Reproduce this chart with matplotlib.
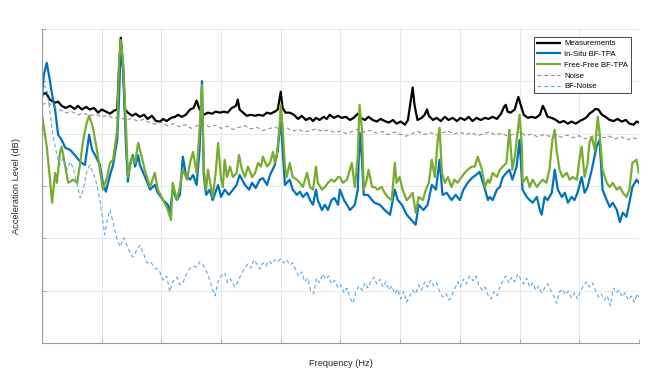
import numpy as np
import matplotlib
matplotlib.use("Agg")
from matplotlib import pyplot as plt

# each series: rows of [frequency (Hz), level (dB)]
meas = np.array([
    [0, 47.4], [7, 47.8], [13, 46.5], [22, 45.9], [27, 46.1], [33, 45.3], [40, 44.9], [47, 45.3],
    [55, 44.7], [60, 45.3], [67, 44.6], [74, 45.1], [80, 44.6], [87, 44.9], [94, 44.0], [100, 44.6],
    [107, 44.2], [114, 43.8], [121, 44.4], [126, 44.6], [129, 52.2], [132, 58.3], [136, 52.2],
    [139, 44.6], [144, 44.0], [151, 43.4], [157, 43.8], [164, 43.2], [171, 43.6], [177, 42.8],
    [184, 43.4], [191, 42.4], [198, 42.3], [203, 42.8], [209, 42.4], [216, 43.0], [223, 43.2],
    [228, 43.6], [234, 43.2], [241, 43.6], [248, 44.6], [254, 44.9], [259, 46.3], [264, 44.6],
    [271, 43.6], [278, 44.0], [285, 43.8], [291, 44.2], [298, 44.0], [305, 44.2], [311, 44.0],
    [318, 44.9], [325, 45.3], [328, 46.5], [331, 44.6], [337, 44.0], [343, 43.4], [350, 43.6],
    [357, 43.4], [363, 43.6], [370, 43.4], [377, 44.0], [383, 43.8], [390, 44.2], [395, 44.6],
    [400, 48.0], [403, 44.9], [408, 44.0], [415, 44.0], [422, 43.6], [429, 42.8], [435, 43.4],
    [442, 42.6], [449, 43.0], [454, 42.4], [459, 43.0], [465, 42.6], [472, 43.2], [477, 42.8],
    [482, 43.6], [489, 43.0], [496, 43.4], [502, 43.0], [509, 43.2], [516, 42.6], [522, 43.0],
    [529, 43.8], [534, 43.0], [541, 42.6], [547, 43.2], [554, 42.6], [561, 42.3], [567, 42.8],
    [574, 42.4], [581, 42.1], [588, 42.6], [594, 41.9], [601, 42.3], [608, 41.7], [613, 42.6],
    [618, 46.5], [621, 48.8], [624, 45.5], [629, 42.6], [636, 43.0], [641, 43.6], [645, 44.6],
    [648, 43.4], [655, 42.6], [661, 43.0], [668, 42.4], [675, 43.2], [681, 42.6], [688, 43.0],
    [695, 42.4], [701, 43.0], [708, 42.6], [715, 43.2], [721, 42.4], [728, 43.0], [735, 42.6],
    [742, 43.0], [748, 42.8], [755, 43.2], [762, 42.8], [769, 43.8], [774, 45.1], [777, 45.5],
    [780, 44.2], [785, 44.0], [792, 44.6], [795, 45.9], [798, 47.0], [802, 45.5], [807, 43.6],
    [814, 43.0], [820, 43.2], [827, 43.0], [834, 43.6], [839, 45.3], [842, 44.6], [847, 43.2],
    [854, 43.0], [861, 42.6], [867, 42.1], [874, 42.4], [881, 41.9], [887, 42.3], [894, 41.9],
    [901, 42.4], [908, 42.8], [913, 43.2], [917, 43.8], [922, 44.2], [927, 44.7], [932, 44.6],
    [938, 43.6], [944, 43.2], [951, 42.6], [958, 42.4], [964, 42.8], [971, 42.3], [978, 42.6],
    [984, 41.9], [991, 41.7], [996, 42.3], [1000, 42.1],
])

insitu = np.array([
    [0, 47.0], [3, 51.2], [8, 53.5], [13, 50.3], [17, 47.4], [22, 44.6], [27, 39.8], [33, 38.8],
    [39, 37.3], [47, 36.9], [55, 35.9], [64, 34.6], [72, 34.0], [79, 39.8], [84, 36.9], [89, 35.9],
    [97, 34.0], [102, 30.6], [107, 28.9], [114, 32.1], [119, 34.0], [126, 38.8], [129, 46.5],
    [132, 57.0], [136, 52.2], [141, 36.9], [144, 30.8], [147, 34.0], [152, 35.9], [156, 33.7],
    [161, 35.9], [164, 34.0], [169, 32.7], [176, 30.8], [181, 29.3], [189, 30.2], [194, 28.7],
    [203, 27.3], [211, 26.4], [214, 24.5], [219, 29.3], [226, 27.3], [231, 28.3], [236, 35.6],
    [241, 32.1], [248, 31.2], [253, 32.1], [259, 30.2], [264, 36.9], [268, 50.0], [271, 32.1],
    [275, 28.3], [281, 29.3], [286, 27.3], [295, 30.2], [300, 27.9], [306, 29.3], [313, 28.3],
    [320, 29.3], [326, 30.2], [331, 32.1], [340, 30.2], [347, 29.3], [352, 30.6], [358, 29.6],
    [365, 31.2], [370, 31.5], [377, 30.2], [382, 32.1], [390, 34.0], [395, 36.9], [400, 43.0],
    [403, 36.9], [407, 30.2], [415, 31.2], [420, 29.3], [427, 28.3], [432, 28.9], [437, 27.9],
    [444, 28.7], [449, 27.3], [454, 26.4], [459, 29.3], [462, 27.3], [469, 25.4], [474, 26.4],
    [479, 25.4], [485, 27.3], [490, 27.7], [496, 26.4], [499, 29.3], [506, 27.3], [516, 25.4],
    [524, 26.4], [529, 29.3], [532, 40.2], [536, 35.0], [539, 28.3], [546, 28.3], [553, 27.3],
    [557, 26.8], [566, 26.4], [574, 25.4], [583, 24.5], [591, 29.3], [596, 27.3], [603, 26.4],
    [611, 24.5], [619, 23.5], [626, 22.6], [631, 26.4], [639, 25.4], [646, 26.4], [653, 30.2],
    [660, 29.3], [666, 35.0], [671, 28.3], [678, 28.7], [686, 27.3], [693, 28.3], [700, 27.3],
    [706, 29.3], [713, 30.6], [720, 31.5], [727, 32.1], [733, 32.7], [740, 30.2], [747, 27.3],
    [750, 27.9], [755, 27.3], [762, 29.3], [767, 29.8], [772, 31.7], [778, 32.5], [783, 33.1],
    [788, 31.2], [795, 33.7], [800, 38.8], [805, 29.3], [812, 27.9], [817, 27.3], [822, 26.8],
    [829, 27.9], [834, 25.4], [837, 24.5], [842, 27.9], [847, 27.3], [854, 28.7], [859, 33.1],
    [864, 29.3], [871, 27.9], [876, 28.7], [881, 26.8], [887, 27.9], [892, 27.3], [897, 28.7],
    [904, 31.7], [909, 28.7], [914, 29.8], [921, 33.1], [929, 37.5], [934, 38.8], [939, 29.3],
    [946, 27.3], [951, 26.0], [956, 26.8], [963, 25.4], [968, 23.1], [973, 24.9], [979, 24.1],
    [984, 26.8], [989, 29.8], [996, 31.2], [1000, 30.6],
])

freefree = np.array([
    [0, 43.6], [8, 37.5], [13, 31.7], [17, 26.8], [22, 32.5], [25, 30.6], [30, 36.3], [33, 37.5],
    [39, 33.7], [44, 30.6], [52, 31.2], [59, 30.6], [64, 34.4], [69, 38.8], [75, 42.1], [79, 43.4],
    [85, 41.3], [92, 36.9], [97, 33.1], [102, 29.3], [109, 31.7], [114, 34.4], [119, 35.0],
    [126, 40.7], [129, 53.5], [132, 57.9], [136, 53.5], [141, 40.7], [144, 31.7], [151, 35.6],
    [156, 34.4], [161, 38.2], [167, 35.6], [172, 33.1], [181, 29.8], [189, 32.5], [194, 29.3],
    [203, 27.3], [211, 25.4], [216, 23.5], [219, 30.6], [226, 27.3], [231, 29.8], [236, 33.1],
    [243, 31.2], [248, 34.4], [253, 36.5], [259, 32.5], [264, 40.7], [268, 49.3], [271, 33.1],
    [275, 29.3], [278, 33.1], [283, 29.8], [286, 27.9], [291, 32.5], [295, 38.2], [300, 31.2],
    [303, 29.8], [306, 35.0], [310, 31.7], [315, 33.7], [320, 31.7], [326, 32.5], [330, 35.9],
    [335, 33.1], [340, 31.7], [345, 33.7], [352, 31.7], [357, 32.5], [362, 34.4], [367, 33.7],
    [370, 35.6], [377, 33.7], [382, 34.4], [387, 36.5], [390, 34.4], [393, 35.6], [398, 41.3],
    [400, 45.5], [403, 41.3], [407, 33.7], [410, 31.7], [415, 34.4], [420, 31.7], [427, 31.2],
    [432, 30.6], [437, 29.8], [444, 32.5], [449, 29.8], [454, 29.3], [459, 33.7], [462, 30.6],
    [469, 29.3], [474, 29.8], [479, 30.6], [485, 31.2], [490, 30.8], [496, 31.7], [499, 31.7],
    [504, 30.6], [511, 31.2], [519, 34.4], [524, 29.8], [529, 35.6], [532, 45.5], [536, 40.7],
    [539, 29.3], [544, 31.2], [547, 33.1], [553, 29.8], [557, 29.8], [562, 29.3], [569, 29.8],
    [574, 28.7], [579, 27.9], [586, 27.3], [591, 34.4], [594, 30.6], [599, 31.7], [604, 29.3],
    [611, 27.3], [616, 27.9], [621, 28.7], [626, 24.9], [631, 27.9], [638, 27.3], [643, 29.3],
    [648, 30.6], [653, 35.0], [658, 31.7], [663, 38.8], [666, 41.1], [670, 32.5], [675, 30.6],
    [680, 31.7], [686, 29.8], [691, 31.2], [696, 30.6], [703, 31.7], [708, 32.5], [713, 33.1],
    [720, 33.7], [725, 33.7], [730, 35.6], [737, 33.1], [742, 29.8], [747, 31.2], [750, 30.6],
    [755, 32.5], [762, 31.7], [767, 33.1], [772, 33.7], [778, 34.4], [783, 40.7], [788, 33.1],
    [792, 35.6], [797, 40.7], [800, 43.6], [804, 37.5], [805, 30.6], [812, 31.7], [817, 29.8],
    [822, 31.2], [829, 29.8], [834, 30.6], [839, 31.2], [845, 30.6], [850, 33.1], [855, 38.8],
    [859, 40.7], [862, 36.9], [867, 33.1], [872, 31.7], [879, 32.5], [884, 31.2], [889, 31.7],
    [896, 31.2], [901, 35.6], [904, 37.5], [909, 31.7], [914, 34.4], [917, 38.2], [921, 39.4],
    [926, 36.9], [931, 43.2], [934, 40.2], [939, 33.1], [946, 30.6], [951, 29.8], [956, 30.6],
    [963, 29.3], [968, 29.8], [973, 28.7], [979, 27.9], [984, 29.3], [989, 34.4], [996, 35.0],
    [1000, 32.5],
])

noise_freq = np.arange(0, 1001, 10)
noise = [
    45.5, 46.0, 45.0, 44.5, 44.0, 44.2, 43.6, 43.9, 43.4, 43.7, 43.2, 43.5, 42.9, 43.1, 42.6,
    42.9, 42.4, 42.7, 42.1, 41.8, 42.2, 41.5, 41.9, 41.3, 41.7, 41.0, 41.5, 42.0, 41.3, 41.6,
    41.0, 41.4, 40.8, 41.2, 41.5, 40.9, 41.2, 40.6, 40.9, 41.3, 40.7, 41.1, 40.5, 40.8, 40.3,
    40.6, 40.9, 40.4, 40.7, 40.2, 40.5, 40.0, 40.4, 40.9, 40.3, 40.6, 40.1, 40.4, 39.8, 40.3,
    39.9, 39.5, 40.0, 40.4, 39.8, 40.2, 39.7, 40.1, 40.5, 39.9, 40.3, 39.8, 40.2, 39.6, 40.0,
    40.3, 39.7, 40.1, 39.5, 39.9, 40.3, 39.6, 39.9, 39.4, 39.8, 39.5, 39.9, 39.3, 39.7, 39.2,
    39.6, 39.0, 39.4, 39.8, 39.2, 39.5, 39.0, 39.4, 38.8, 39.2, 38.9,
]

bf_noise = np.array([
    [0, 45.5], [3, 49.3], [8, 48.4], [13, 44.6], [18, 39.8], [25, 35.9], [30, 34.0], [35, 35.4],
    [42, 33.1], [47, 34.6], [52, 33.5], [59, 30.2], [64, 27.7], [69, 29.3], [75, 32.7], [80, 34.0],
    [87, 32.1], [92, 30.2], [97, 27.3], [100, 24.9], [105, 20.7], [110, 23.9], [114, 25.4],
    [119, 23.1], [126, 19.7], [131, 18.4], [137, 20.1], [142, 18.7], [147, 17.4], [152, 16.4],
    [159, 17.8], [164, 18.7], [171, 16.8], [176, 15.3], [182, 15.5], [189, 14.3], [196, 14.0],
    [203, 12.0], [209, 12.8], [214, 9.8], [219, 11.7], [226, 12.6], [231, 11.1], [236, 11.5],
    [243, 13.4], [248, 14.3], [254, 14.7], [259, 14.5], [264, 15.5], [270, 14.9], [276, 13.6],
    [281, 12.0], [286, 10.1], [290, 9.0], [295, 11.7], [300, 12.8], [306, 13.4], [311, 11.5],
    [316, 12.2], [323, 10.7], [328, 11.7], [333, 13.0], [338, 14.0], [345, 15.1], [350, 14.3],
    [355, 15.9], [360, 15.1], [365, 14.1], [370, 15.3], [375, 14.7], [380, 15.7], [385, 15.1],
    [390, 15.9], [395, 15.5], [400, 16.1], [405, 15.3], [410, 15.9], [415, 14.9], [420, 15.3],
    [425, 14.0], [430, 12.8], [435, 13.6], [440, 11.7], [445, 12.4], [450, 10.1], [455, 9.4],
    [460, 12.4], [465, 11.5], [470, 13.2], [475, 12.2], [480, 12.8], [485, 11.3], [490, 12.0],
    [496, 10.5], [501, 11.1], [506, 9.6], [511, 10.5], [516, 8.6], [521, 7.6], [526, 9.8],
    [531, 10.9], [536, 10.1], [541, 11.5], [546, 10.5], [551, 11.9], [556, 12.6], [561, 11.3],
    [566, 12.2], [571, 10.7], [576, 11.7], [581, 10.1], [586, 10.9], [591, 9.4], [596, 10.3],
    [601, 8.4], [606, 9.8], [611, 7.8], [616, 9.0], [621, 10.1], [626, 9.4], [631, 11.1],
    [636, 10.1], [641, 11.7], [646, 10.7], [651, 12.0], [656, 10.9], [661, 11.5], [666, 9.9],
    [671, 8.8], [677, 9.4], [682, 8.2], [687, 9.2], [692, 10.5], [697, 11.7], [701, 10.7],
    [706, 12.2], [711, 11.3], [716, 12.8], [722, 11.9], [727, 12.8], [732, 11.1], [737, 10.1],
    [742, 10.7], [747, 9.2], [752, 8.4], [757, 9.8], [762, 9.0], [767, 10.7], [772, 11.9],
    [777, 12.8], [782, 11.5], [787, 12.6], [792, 11.7], [797, 13.2], [802, 12.2], [807, 11.3],
    [812, 12.4], [817, 10.7], [822, 11.5], [827, 10.1], [832, 10.9], [837, 9.6], [842, 10.5],
    [847, 11.3], [852, 10.1], [857, 9.0], [862, 7.6], [867, 9.8], [872, 10.3], [877, 9.2],
    [882, 9.9], [887, 8.6], [892, 9.6], [897, 8.4], [902, 9.9], [907, 10.9], [912, 11.7],
    [917, 10.7], [922, 11.5], [927, 10.1], [932, 8.8], [937, 9.4], [942, 8.2], [947, 9.0],
    [952, 7.1], [957, 10.5], [962, 9.6], [967, 10.1], [972, 8.8], [977, 9.6], [982, 8.2],
    [987, 9.0], [992, 7.8], [997, 9.4], [1000, 8.8],
])

plt.rcParams["font.family"] = ["Liberation Sans", "DejaVu Sans"]

fig = plt.figure(figsize=(6.56, 3.85), dpi=100)
ax = fig.add_axes([0.064, 0.109, 0.910, 0.816])

ax.plot(meas[:, 0], meas[:, 1], color="black", lw=1.6, label="Measurements")
ax.plot(insitu[:, 0], insitu[:, 1], color="#0072BD", lw=1.6, label="In-Situ BF-TPA")
ax.plot(freefree[:, 0], freefree[:, 1], color="#77AC30", lw=1.6, label="Free-Free BF-TPA")
ax.plot(noise_freq, noise, color="#8c8c8c", lw=0.8, ls=(0, (3.5, 2.5)), label="Noise")
ax.plot(bf_noise[:, 0], bf_noise[:, 1], color="#5fa8e0", lw=0.8, ls=(0, (3.5, 2.5)),
        label="BF-Noise")

ax.set_xlim(0, 1000)
ax.set_ylim(0, 60)
ax.set_xticks(np.arange(0, 1001, 100))
ax.set_yticks(np.arange(0, 61, 10))
ax.tick_params(labelleft=False, labelbottom=False, direction="in", length=3,
               width=0.6, color="#9a9a9a")
ax.grid(True, color="#e3e3e3", lw=0.6)
ax.set_axisbelow(True)
for side in ("top", "right"):
    ax.spines[side].set_visible(False)
for side in ("left", "bottom"):
    ax.spines[side].set_color("#9a9a9a")
    ax.spines[side].set_linewidth(0.8)

ax.set_xlabel("Frequency (Hz)", fontsize=6.7, color="#262626")
ax.set_ylabel("Acceleration Level (dB)", fontsize=6.7, color="#262626")
ax.xaxis.set_label_coords(0.5, -0.052)
ax.yaxis.set_label_coords(-0.035, 0.5)

leg = ax.legend(loc="upper right", bbox_to_anchor=(0.9866, 0.9745), borderaxespad=0,
                fontsize=5.6, fancybox=False, framealpha=1, edgecolor="#262626",
                handlelength=3.0, handletextpad=0.45, labelspacing=0.42, borderpad=0.4)
leg.get_frame().set_linewidth(0.6)

fig.savefig("out.png", dpi=100)
